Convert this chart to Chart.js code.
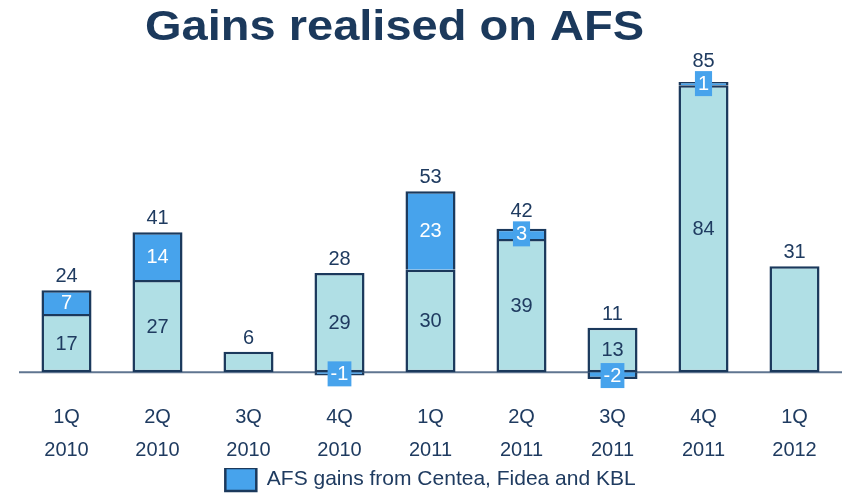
<!DOCTYPE html>
<html>
<head>
<meta charset="utf-8">
<script src="https://cdn.jsdelivr.net/npm/chart.js@4.4.1/dist/chart.umd.min.js"></script>
<style>
html,body{margin:0;padding:0;background:#fff;}
#wrap{position:relative;width:845px;height:495px;}
</style>
</head>
<body>
<div id="wrap"><canvas id="c" width="845" height="495"></canvas></div>
<script>
const titleText = 'Gains realised on AFS';
const categories = [['1Q','2010'],['2Q','2010'],['3Q','2010'],['4Q','2010'],['1Q','2011'],['2Q','2011'],['3Q','2011'],['4Q','2011'],['1Q','2012']];
const baseValues = [17, 27, 6, 29, 30, 39, 13, 84, 31];
const afsValues = [7, 14, null, -1, 23, 3, -2, 1, null];
const totalLabels = [24, 41, 6, 28, 53, 42, 11, 85, 31];
const seriesNames = ['AFS gains (other)', 'AFS gains from Centea, Fidea and KBL'];

const NAVY = '#1b395c';
const TEXT = '#1f3b60';
const LIGHT = '#b0dfe5';
const BLUE = '#47a3ec';
const FONT = "'Liberation Sans', Arial, sans-serif";

const labelPlugin = {
  id: 'labels',
  beforeDatasetsDraw(chart) {
    const ctx = chart.ctx, y = chart.scales.y, a = chart.chartArea;
    const py = y.getPixelForValue(0);
    ctx.save();
    ctx.strokeStyle = '#5f7590';
    ctx.lineWidth = 2;
    ctx.beginPath();
    ctx.moveTo(a.left - 2, py);
    ctx.lineTo(a.right + 2, py);
    ctx.stroke();
    ctx.restore();
  },
  afterDatasetsDraw(chart) {
    const ctx = chart.ctx;
    const m0 = chart.getDatasetMeta(0), m1 = chart.getDatasetMeta(1);
    ctx.save();
    ctx.font = '20px ' + FONT;
    ctx.textAlign = 'center';
    for (let i = 0; i < baseValues.length; i++) {
      const b0 = m0.data[i], b1 = m1.data[i];
      let top = b0.y - 8;
      if (afsValues[i] !== null) {
        ctx.fillStyle = TEXT;
        ctx.textBaseline = 'middle';
        ctx.fillText(String(baseValues[i]), b0.x, (b0.y + b0.base) / 2 + 1);
        const h = Math.abs(b1.base - b1.y);
        const cy = (b1.y + b1.base) / 2;
        const txt = String(afsValues[i]);
        if (h >= 15) {
          ctx.fillStyle = '#ffffff';
          ctx.fillText(txt, b1.x, cy + 1);
        } else {
          const w = ctx.measureText(txt).width + 6;
          const bh = 25;
          ctx.fillStyle = BLUE;
          ctx.fillRect(b1.x - w / 2, cy - bh / 2, w, bh);
          ctx.fillStyle = '#ffffff';
          ctx.fillText(txt, b1.x, cy + 1);
          if (afsValues[i] > 0) top = Math.min(top, cy - bh / 2 - 4);
        }
        if (afsValues[i] > 0) top = Math.min(top, b1.y - 8);
      }
      ctx.fillStyle = TEXT;
      ctx.textBaseline = 'alphabetic';
      ctx.fillText(String(totalLabels[i]), b0.x, top);
    }
    ctx.restore();
  },
  afterDraw(chart) {
    const ctx = chart.ctx;
    ctx.save();
    ctx.font = 'bold 42px ' + FONT;
    ctx.fillStyle = NAVY;
    ctx.textAlign = 'center';
    ctx.textBaseline = 'alphabetic';
    const w = ctx.measureText(titleText).width;
    ctx.translate(394.5, 40);
    ctx.scale(499 / w, 1);
    ctx.fillText(titleText, 0, 0);
    ctx.restore();
  }
};

new Chart(document.getElementById('c'), {
  type: 'bar',
  data: {
    labels: categories,
    datasets: [
      {
        label: seriesNames[0],
        data: baseValues,
        backgroundColor: LIGHT,
        borderColor: NAVY,
        borderWidth: 2.5,
        borderSkipped: false,
        barPercentage: 0.55,
        categoryPercentage: 1
      },
      {
        label: seriesNames[1],
        data: afsValues,
        backgroundColor: BLUE,
        borderColor: NAVY,
        borderWidth: 2.5,
        borderSkipped: 'start',
        barPercentage: 0.55,
        categoryPercentage: 1
      }
    ]
  },
  options: {
    responsive: false,
    animation: false,
    layout: { padding: { top: 58, left: 21, right: 5, bottom: -6 } },
    scales: {
      x: {
        stacked: true,
        grid: { display: false, drawTicks: false },
        border: { display: false },
        ticks: {
          color: TEXT,
          font: { family: FONT, size: 20, lineHeight: 1.65 },
          padding: 7,
          maxRotation: 0,
          autoSkip: false
        },
        afterFit: (scale) => { scale.height -= 6; }
      },
      y: {
        stacked: true,
        display: false,
        min: -6.4,
        max: 92
      }
    },
    plugins: {
      legend: {
        position: 'bottom',
        labels: {
          filter: (item) => item.datasetIndex === 1,
          color: TEXT,
          font: { family: FONT, size: 21 },
          boxWidth: 31,
          boxHeight: 23,
          padding: 0
        }
      },
      title: { display: false },
      tooltip: { enabled: false }
    }
  },
  plugins: [labelPlugin]
});
</script>
</body>
</html>
